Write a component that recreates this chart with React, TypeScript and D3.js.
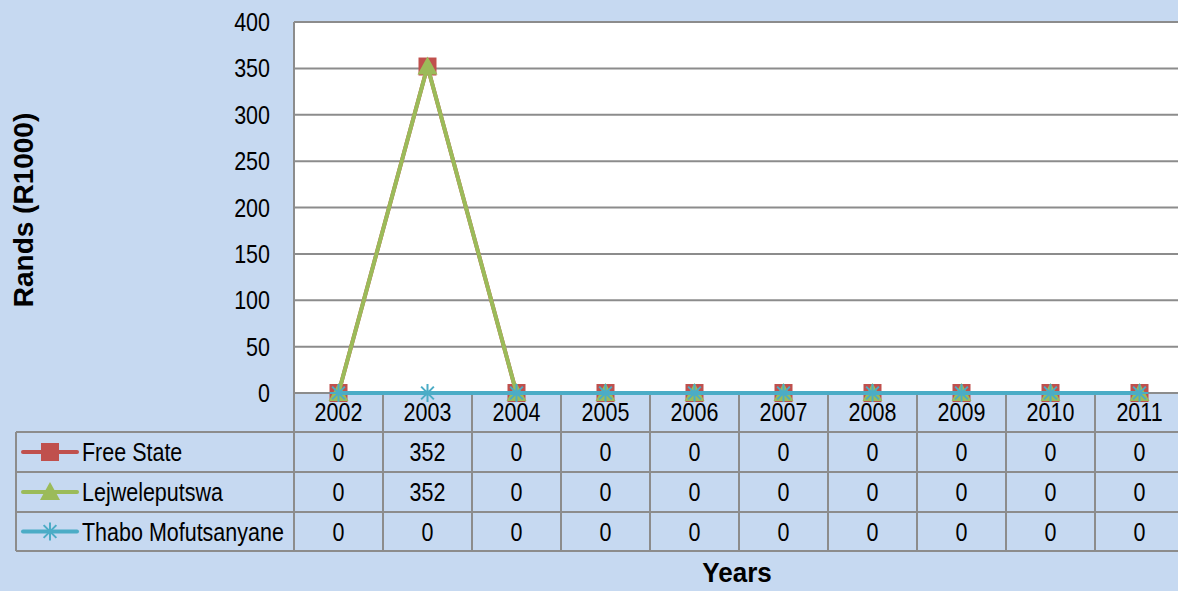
import React from "react";
import * as d3 from "d3";

const years = ["2002", "2003", "2004", "2005", "2006", "2007", "2008", "2009", "2010", "2011"];
const freeState = [0, 352, 0, 0, 0, 0, 0, 0, 0, 0];
const lejweleputswa = [0, 352, 0, 0, 0, 0, 0, 0, 0, 0];
const thaboMofutsanyane = [0, 0, 0, 0, 0, 0, 0, 0, 0, 0];
const yTicks = [0, 50, 100, 150, 200, 250, 300, 350, 400];

const series = [
  { name: "Free State", values: freeState, color: "#c0504d", marker: "square" },
  { name: "Lejweleputswa", values: lejweleputswa, color: "#9bbb59", marker: "triangle" },
  { name: "Thabo Mofutsanyane", values: thaboMofutsanyane, color: "#4bacc6", marker: "star" },
];

const W = 1178;
const H = 591;
const bg = "#c6d9f1";
const grid = "#8c8c8c";
const font = "'Liberation Sans', Arial, sans-serif";

const plotLeft = 294;
const plotTop = 22;
const plotBottom = 393;
const tableLeft = 16;
const rowLines = [432, 472, 512, 551];

// narrow text: Arial Narrow isn't there, so squeeze Liberation Sans
const NT = ({ x, y, anchor = "start", children }) => (
  <text
    transform={`translate(${x},${y}) scale(0.86,1)`}
    textAnchor={anchor}
    fontFamily={font}
    fontSize={25}
    fill="#000"
  >
    {children}
  </text>
);

const Marker = ({ type, x, y, color }) => {
  if (type === "square") {
    return <rect x={x - 9} y={y - 9} width={18} height={18} fill={color} />;
  }
  if (type === "triangle") {
    const s = 10;
    return <path d={`M${x},${y - s}L${x + s},${y + s * 0.8}L${x - s},${y + s * 0.8}Z`} fill={color} />;
  }
  const r = 9;
  const lines = [0, 45, 90, 135].map((a) => {
    const rad = (a * Math.PI) / 180;
    return `M${x - r * Math.sin(rad)},${y - r * Math.cos(rad)}L${x + r * Math.sin(rad)},${y + r * Math.cos(rad)}`;
  });
  return <path d={lines.join("")} stroke={color} strokeWidth={2} fill="none" />;
};

export default function App() {
  const x = d3.scaleBand().domain(years).range([plotLeft, plotLeft + 89 * years.length]).padding(0);
  const y = d3.scaleLinear().domain([0, 400]).range([plotBottom, plotTop]);
  const cx = (d) => x(d) + x.bandwidth() / 2;

  const line = d3
    .line()
    .x((d, i) => cx(years[i]))
    .y((d) => y(d));

  return (
    <div style={{ position: "fixed", left: 0, top: 0, width: W, height: H }}>
      <svg width={W} height={H} style={{ display: "block", background: bg }}>
        <rect x={plotLeft} y={plotTop} width={W - plotLeft} height={plotBottom - plotTop} fill="#fff" />

        {yTicks.slice(1).map((t) => (
          <line key={t} x1={plotLeft} x2={W} y1={y(t)} y2={y(t)} stroke={grid} strokeWidth={2} />
        ))}
        {yTicks.map((t) => (
          <NT key={t} x={270} y={y(t) + 9} anchor="end">
            {t}
          </NT>
        ))}

        {/* data table */}
        <line x1={plotLeft} x2={plotLeft} y1={plotTop} y2={rowLines[3]} stroke={grid} strokeWidth={2} />
        <line x1={plotLeft} x2={W} y1={plotBottom} y2={plotBottom} stroke={grid} strokeWidth={2} />
        {years.map((yr) => (
          <line key={yr} x1={x(yr) + x.bandwidth()} x2={x(yr) + x.bandwidth()} y1={plotBottom} y2={rowLines[3]} stroke={grid} strokeWidth={2} />
        ))}
        {rowLines.map((r) => (
          <line key={r} x1={tableLeft} x2={W} y1={r} y2={r} stroke={grid} strokeWidth={2} />
        ))}
        <line x1={tableLeft} x2={tableLeft} y1={rowLines[0]} y2={rowLines[3]} stroke={grid} strokeWidth={2} />

        {years.map((yr) => (
          <NT key={yr} x={cx(yr)} y={421} anchor="middle">
            {yr}
          </NT>
        ))}

        {series.map((s, si) => {
          const mid = (rowLines[si] + rowLines[si + 1]) / 2;
          return (
            <g key={s.name}>
              <line x1={23} x2={77} y1={mid} y2={mid} stroke={s.color} strokeWidth={4} strokeLinecap="round" />
              <Marker type={s.marker} x={50} y={mid} color={s.color} />
              <NT x={82} y={mid + 9}>
                {s.name}
              </NT>
              {s.values.map((v, i) => (
                <NT key={i} x={cx(years[i])} y={mid + 9} anchor="middle">
                  {v}
                </NT>
              ))}
            </g>
          );
        })}

        {/* lines and markers */}
        {series.map((s) => (
          <g key={s.name}>
            <path d={line(s.values)} fill="none" stroke={s.color} strokeWidth={4} strokeLinejoin="round" />
            {s.values.map((v, i) => (
              <Marker key={i} type={s.marker} x={cx(years[i])} y={y(v)} color={s.color} />
            ))}
          </g>
        ))}

        <text
          transform="translate(737,582) scale(0.93,1)"
          textAnchor="middle"
          fontFamily={font}
          fontWeight="bold"
          fontSize={28}
          fill="#000"
        >
          Years
        </text>
        <text
          transform="translate(33,210) rotate(-90)"
          textAnchor="middle"
          fontFamily={font}
          fontWeight="bold"
          fontSize={28}
          fill="#000"
        >
          Rands (R1000)
        </text>
      </svg>
    </div>
  );
}
